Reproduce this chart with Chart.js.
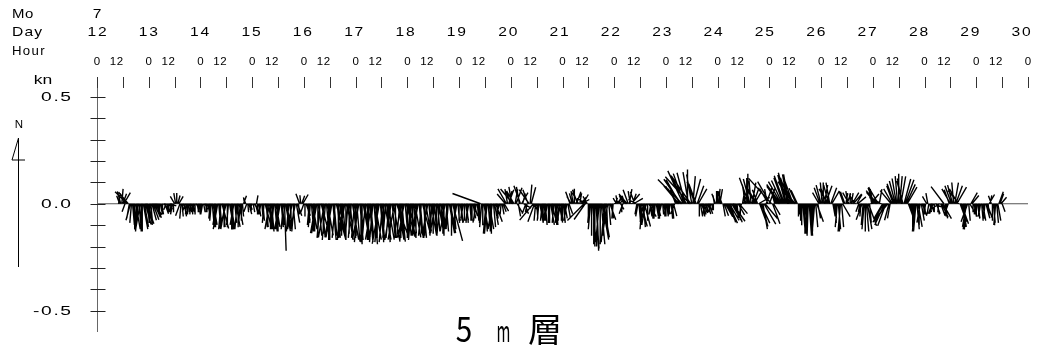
<!DOCTYPE html>
<html><head><meta charset="utf-8">
<script src="https://cdn.jsdelivr.net/npm/chart.js@4"></script>
<style>html,body{margin:0;padding:0;background:#fff}canvas{display:block}</style>
</head><body>
<canvas id="c" width="1039" height="351"></canvas>
<script>
// ---- data: half-hourly current vectors, 5 m layer, July 12-29 ----
const monthLabel = '7';
const dayLabels = [12,13,14,15,16,17,18,19,20,21,22,23,24,25,26,27,28,29,30];
const hourLabels = ['0', '12'];
const yLabelValues = [0.5, 0.0, -0.5];
const yLabelTexts = ['0.5', '0.0', '-0.5'];
const titleParts = ['5', 'm', '層'];
const firstDayStartHour = 10;   // Jul 12 record starts at 10:00
const stepHours = 0.5;
// speed (kn), one row per day
const speedByDay = [
 [.05,.04,.06,.07,.05,.06,.04,.05,.08,.07,.07,.08,.09,.10,.11,.12,.12,.11,.13,.12,.12,.13,.13,.12,.11,.10,.10,.09], // 12
 [.10,.09,.09,.08,.08,.07,.06,.07,.05,.06,.04,.05,.05,.04,.04,.05,.03,.04,.04,.03,.03,.04,.05,.04,.04,.05,.05,.04,.04,.06,.07,.06,.05,.06,.04,.05,.05,.04,.04,.05,.05,.04,.04,.05,.03,.04,.04,.05], // 13
 [.04,.05,.05,.04,.03,.04,.04,.05,.06,.07,.08,.09,.10,.11,.11,.10,.12,.11,.10,.12,.12,.11,.11,.12,.12,.11,.10,.12,.11,.12,.12,.10,.09,.11,.12,.11,.10,.09,.08,.06,.04,.03,.03,.04,.04,.05,.03,.04], // 14
 [.03,.04,.05,.04,.04,.05,.06,.05,.05,.07,.08,.09,.10,.11,.11,.12,.12,.11,.13,.12,.12,.13,.11,.12,.13,.12,.12,.11,.10,.12,.22,.13,.12,.11,.13,.12,.11,.12,.12,.13,.10,.09,.06,.05,.05,.04,.04,.05], // 15
 [.05,.06,.06,.08,.09,.10,.11,.12,.12,.13,.13,.14,.14,.15,.15,.16,.16,.15,.14,.16,.17,.16,.15,.17,.17,.16,.16,.17,.15,.16,.17,.16,.16,.17,.17,.15,.15,.16,.16,.17,.17,.16,.14,.15,.16,.17,.15,.16], // 16
 [.16,.17,.18,.17,.17,.18,.19,.17,.16,.18,.18,.17,.17,.18,.15,.17,.18,.19,.17,.16,.16,.18,.19,.17,.17,.18,.18,.17,.16,.18,.17,.16,.18,.17,.16,.18,.17,.16,.15,.17,.18,.16,.16,.17,.17,.16,.14,.16], // 17
 [.16,.15,.15,.16,.17,.15,.14,.16,.16,.15,.15,.14,.16,.15,.14,.16,.15,.14,.16,.15,.13,.15,.15,.14,.14,.15,.15,.13,.13,.14,.14,.13,.12,.14,.15,.13,.13,.12,.12,.14,.14,.15,.18,.12,.10,.09,.08,.09], // 18
 [.08,.09,.09,.08,.07,.08,.08,.09,.09,.08,.07,.08,.08,.07,.06,.08,.09,.08,.08,.09,.14,.11,.10,.12,.13,.14,.14,.13,.12,.13,.14,.12,.11,.10,.09,.07,.05,.06,.04,.05,.05,.04,.04,.06,.08,.07,.07,.06], // 19
 [.06,.08,.09,.07,.07,.08,.05,.06,.08,.09,.06,.05,.04,.05,.05,.04,.07,.08,.09,.08,.04,.10,.09,.08,.06,.07,.08,.09,.07,.08,.09,.08,.10,.09,.08,.09,.09,.10,.07,.08,.09,.10,.10,.09,.08,.09,.09,.08], // 20
 [.08,.09,.07,.08,.08,.07,.05,.06,.04,.05,.06,.07,.05,.06,.07,.06,.05,.04,.04,.05,.11,.09,.05,.04,.06,.09,.12,.15,.17,.19,.20,.21,.22,.20,.18,.19,.19,.17,.16,.18,.15,.14,.12,.10,.08,.07,.06,.07], // 21
 [.04,.03,.03,.04,.04,.03,.03,.04,.05,.04,.04,.05,.06,.07,.07,.06,.06,.05,.05,.06,.04,.05,.06,.08,.10,.11,.12,.11,.11,.10,.09,.08,.07,.06,.05,.06,.06,.07,.07,.06,.06,.07,.07,.06,.06,.05,.05,.06], // 22
 [.06,.05,.05,.06,.06,.07,.07,.06,.05,.07,.08,.10,.11,.13,.14,.16,.17,.15,.15,.16,.16,.15,.17,.16,.14,.13,.12,.11,.10,.09,.08,.06,.06,.05,.05,.06,.06,.05,.04,.05,.05,.04,.04,.03,.03,.04,.05,.06], // 23
 [.06,.07,.07,.06,.05,.06,.06,.07,.08,.09,.10,.09,.09,.10,.10,.09,.08,.07,.07,.06,.06,.05,.05,.06,.06,.08,.09,.12,.14,.13,.12,.11,.10,.08,.07,.09,.08,.07,.06,.09,.10,.11,.12,.11,.09,.08,.07,.08], // 24
 [.08,.12,.16,.10,.06,.07,.07,.08,.09,.10,.11,.12,.12,.13,.14,.14,.15,.14,.14,.13,.12,.11,.11,.10,.09,.08,.07,.06,.05,.08,.10,.12,.13,.14,.15,.14,.14,.15,.15,.14,.13,.12,.12,.11,.09,.07,.06,.08], // 25
 [.09,.10,.10,.09,.09,.08,.08,.09,.10,.08,.07,.06,.05,.07,.09,.11,.12,.13,.13,.11,.07,.06,.06,.05,.05,.06,.06,.05,.05,.06,.06,.05,.04,.05,.05,.04,.04,.06,.08,.10,.12,.13,.13,.12,.11,.09,.06,.07], // 26
 [.07,.08,.06,.07,.08,.09,.07,.06,.06,.08,.10,.11,.11,.10,.09,.08,.07,.08,.08,.09,.10,.11,.12,.13,.14,.13,.13,.12,.11,.12,.12,.10,.09,.08,.07,.09,.10,.11,.12,.13,.13,.12,.11,.10,.09,.08,.06,.05], // 27
 [.05,.04,.04,.05,.05,.04,.04,.05,.05,.04,.03,.05,.05,.04,.04,.06,.07,.08,.10,.07,.06,.05,.05,.07,.08,.09,.09,.10,.10,.09,.09,.08,.08,.09,.10,.11,.11,.12,.12,.11,.09,.08,.07,.06,.05,.04,.04,.05], // 28
 [.06,.07,.07,.06,.05,.08,.08,.07,.06,.07,.07,.06,.05,.04,.04,.08,.09,.10,.10,.09,.08,.06,.05,.04,.04]              // 29
];
// direction the current flows toward (deg clockwise from north), one row per day
const dirByDay = [
 [10,340,345,5,20,30,200,330,315,320,190,195,185,175,175,180,170,185,185,175,190,180,180,170,170,165,160,175],
 [170,180,175,165,160,155,150,160,165,175,180,170,170,185,140,160,200,175,175,150,110,190,190,180,330,350,0,15,30,200,185,175,160,170,200,185,180,175,165,185,175,170,190,180,150,170,180,175],
 [175,185,190,170,150,175,180,170,175,185,185,175,170,180,180,190,190,175,175,185,165,175,180,190,195,180,185,170,170,180,180,190,175,170,185,180,170,185,180,175,20,350,340,200,175,165,160,180],
 [200,170,150,165,10,180,170,185,190,175,175,185,165,175,180,170,190,180,175,185,185,175,170,180,180,190,190,175,175,185,178,170,170,180,185,175,180,190,175,185,190,170,160,175,340,355,20,30],
 [200,180,160,170,175,185,185,175,170,180,180,190,190,180,175,185,165,175,180,190,185,175,170,180,180,190,190,175,175,185,165,175,180,170,185,180,175,190,190,180,170,185,180,175,185,170,175,185],
 [180,175,185,190,175,180,180,170,170,185,190,180,180,175,175,190,185,175,170,180,180,185,190,175,175,185,180,170,185,175,170,185,180,190,175,170,190,180,160,170,170,185,180,175,185,190,175,165],
 [180,175,170,185,185,180,175,170,180,190,190,175,175,185,165,175,180,170,185,190,175,180,170,185,180,175,190,180,175,170,185,175,170,180,180,190,175,185,185,170,170,180,165,175,180,185,190,175],
 [180,170,175,185,190,180,170,175,185,190,175,180,180,170,165,185,190,175,175,180,290,185,180,170,175,185,185,175,170,180,180,190,175,170,160,175,180,190,200,185,170,160,150,320,330,350,20,10],
 [340,350,320,330,10,20,150,170,350,340,30,15,120,160,200,190,340,325,5,15,140,220,200,185,175,180,185,170,170,185,180,175,175,190,190,180,180,170,165,180,185,175,175,185,180,170,190,180],
 [180,175,170,185,190,170,160,340,330,345,350,0,30,20,340,330,10,40,60,30,225,215,300,330,180,185,185,180,175,180,180,176,178,182,185,180,175,170,170,185,185,178,190,175,160,170,175,185],
 [60,20,330,350,20,40,150,180,200,330,340,320,320,340,10,350,40,20,60,340,300,190,190,175,175,165,185,175,165,190,200,180,150,170,190,180,175,185,185,170,165,180,180,190,195,175,170,180],
 [180,175,170,185,190,175,175,165,200,340,330,325,320,330,325,315,335,340,345,330,0,350,318,325,350,5,15,340,340,20,30,180,170,160,150,175,190,180,175,165,160,185,200,180,180,350,340,0],
 [0,5,10,350,340,170,160,150,150,155,155,150,165,150,145,155,160,170,175,150,140,180,190,10,20,355,350,0,0,340,345,355,10,20,30,330,330,340,60,160,155,165,170,150,140,20,350,330],
 [20,330,318,160,150,345,340,335,330,325,325,330,335,340,340,345,345,350,350,340,330,335,340,330,320,335,335,180,180,180,180,175,175,180,178,182,182,176,176,180,180,185,185,175,160,170,330,340],
 [345,355,0,10,20,340,330,345,350,20,30,170,170,175,180,185,175,180,185,175,150,340,340,10,20,350,330,0,10,30,40,330,320,30,50,200,190,185,200,185,185,180,175,170,160,175,40,350],
 [350,340,330,320,320,330,10,300,300,210,210,205,200,215,220,195,190,320,330,340,340,345,350,355,0,5,10,350,345,15,20,25,30,160,160,170,175,180,180,185,185,175,170,180,190,170,160,175],
 [175,190,330,350,190,170,160,200,200,180,120,160,170,185,240,160,155,150,323,170,180,190,200,340,330,340,345,355,10,20,30,330,320,160,160,170,175,180,185,190,200,175,150,30,40,180,170,185],
 [180,170,175,185,190,175,170,180,185,165,160,175,30,10,340,180,175,180,185,175,170,20,20,40,160]
];

// ---- layout / scale setup ----
const X_MIN = 0, X_MAX = 432;       // hours from Jul 12 00:00 to Jul 30 00:00
const Y_MIN = -0.6, Y_MAX = 0.565;  // knots
const PAD = {left: 97, right: 11, top: 83, bottom: 19};
const W = 1039, H = 351;
const pxPerKn = (H - PAD.top - PAD.bottom) / (Y_MAX - Y_MIN);
const pxPerHour = (W - PAD.left - PAD.right) / (X_MAX - X_MIN);
const hoursPerKn = pxPerKn / pxPerHour; // keeps sticks isotropic

const stickData = [];
speedByDay.forEach((row, d) => {
  const dirs = dirByDay[d];
  const n = Math.min(row.length, dirs.length);
  const t0 = d * 24 + (d === 0 ? firstDayStartHour : 0);
  for (let j = 0; j < n; j++) {
    const t = t0 + j * stepHours;
    const a = dirs[j] * Math.PI / 180;
    const u = row[j] * Math.sin(a), v = row[j] * Math.cos(a);
    stickData.push({x: t, y: 0}, {x: t + u * hoursPerKn, y: v}, {x: t, y: null});
  }
});

function drawText(ctx, s, x, y, o) {
  ctx.save();
  ctx.font = o.font;
  ctx.fillStyle = o.color || '#000';
  ctx.textBaseline = o.baseline || 'middle';
  ctx.textAlign = 'left';
  try { ctx.letterSpacing = (o.ls || 0) + 'px'; } catch (e) {}
  const sx = o.sx || 1;
  const w = (ctx.measureText(s).width - (o.ls || 0)) * sx;
  const left = o.align === 'center' ? x - w / 2 : (o.align === 'right' ? x - w : x);
  ctx.translate(left, y);
  ctx.scale(sx, 1);
  ctx.fillText(s, 0, 0);
  ctx.restore();
}

const decorPlugin = {
  id: 'decor',
  afterDatasetsDraw(chart) {
    const ctx = chart.ctx, xs = chart.scales.x, ys = chart.scales.y, ca = chart.chartArea;
    const sans = '"Liberation Sans", Arial, sans-serif';
    ctx.save();
    // y axis line
    const x0 = Math.round(xs.getPixelForValue(0)) + 0.5;
    ctx.strokeStyle = '#666'; ctx.lineWidth = 1;
    ctx.beginPath(); ctx.moveTo(x0, ca.top); ctx.lineTo(x0, ca.bottom); ctx.stroke();
    // cross ticks every 0.1 kn
    ctx.strokeStyle = '#222';
    for (let k = -5; k <= 5; k++) {
      const y = Math.round(ys.getPixelForValue(k / 10)) + 0.5;
      ctx.beginPath(); ctx.moveTo(x0 - 7, y); ctx.lineTo(x0 + 8, y); ctx.stroke();
    }
    // y labels
    yLabelValues.forEach((v, i) => {
      drawText(ctx, yLabelTexts[i], 71, ys.getPixelForValue(v) + 1, {font: '12px ' + sans, align: 'right', sx: 1.6, ls: 1});
    });
    drawText(ctx, 'kn', 43, 80, {font: '13px ' + sans, align: 'center', sx: 1.35});
    // header rows
    drawText(ctx, 'Mo', 12, 14, {font: '13px ' + sans, sx: 1.15, ls: 0.5});
    drawText(ctx, 'Day', 12, 32, {font: '13px ' + sans, sx: 1.2, ls: 1});
    drawText(ctx, 'Hour', 12, 52, {font: '12px ' + sans, sx: 1.1, ls: 1.2});
    drawText(ctx, monthLabel, xs.getPixelForValue(0), 14, {font: '13px ' + sans, align: 'center', sx: 1.2});
    dayLabels.forEach((d, i) => {
      const xp = xs.getPixelForValue(i * 24) - i * 0.38;
      drawText(ctx, String(d), xp, 32, {font: '13px ' + sans, align: 'center', sx: 1.2, ls: 1.5});
      const xh = xs.getPixelForValue(i * 24);
      drawText(ctx, hourLabels[0], xh, 62, {font: '10px ' + sans, align: 'center', sx: 1.15});
      if (i < dayLabels.length - 1)
        drawText(ctx, hourLabels[1], xh + 19.5, 62, {font: '10px ' + sans, align: 'center', sx: 1.15, ls: 0.5});
    });
    // hour tick marks
    ctx.strokeStyle = '#333';
    for (let h = X_MIN; h <= X_MAX; h += 12) {
      const xp = Math.round(xs.getPixelForValue(h)) + 0.5;
      ctx.beginPath(); ctx.moveTo(xp, 77); ctx.lineTo(xp, 88); ctx.stroke();
    }
    // north arrow
    ctx.strokeStyle = '#000';
    ctx.beginPath();
    ctx.moveTo(18.5, 267); ctx.lineTo(18.5, 138);
    ctx.lineTo(12, 160); ctx.lineTo(25, 160);
    ctx.stroke();
    drawText(ctx, 'N', 19, 125, {font: '10px ' + sans, align: 'center', sx: 1.15});
    // title
    const cjk = '"Noto Sans CJK JP", "Noto Sans CJK SC", sans-serif';
    drawText(ctx, titleParts[0], 464, 342, {font: '35px ' + cjk, align: 'center', sx: 0.85, baseline: 'alphabetic'});
    drawText(ctx, titleParts[1], 503.5, 342, {font: '30px ' + cjk, align: 'center', sx: 0.5, baseline: 'alphabetic'});
    drawText(ctx, titleParts[2], 545, 342, {font: '34px ' + cjk, align: 'center', baseline: 'alphabetic'});
    ctx.restore();
  }
};

new Chart(document.getElementById('c'), {
  type: 'line',
  data: {
    datasets: [
      {
        label: 'sticks',
        data: stickData,
        borderColor: '#000',
        borderWidth: 1.4,
        pointRadius: 0,
        spanGaps: false,
        tension: 0,
        clip: false,
        order: 1
      },
      {
        label: 'zero',
        data: [{x: X_MIN, y: 0}, {x: X_MAX, y: 0}],
        borderColor: '#555',
        borderWidth: 1.2,
        pointRadius: 0,
        order: 2
      }
    ]
  },
  options: {
    responsive: false,
    animation: false,
    events: [],
    layout: {padding: PAD},
    plugins: {legend: {display: false}, tooltip: {enabled: false}},
    scales: {
      x: {type: 'linear', min: X_MIN, max: X_MAX, display: false},
      y: {type: 'linear', min: Y_MIN, max: Y_MAX, display: false}
    }
  },
  plugins: [decorPlugin]
});
</script>
</body></html>
